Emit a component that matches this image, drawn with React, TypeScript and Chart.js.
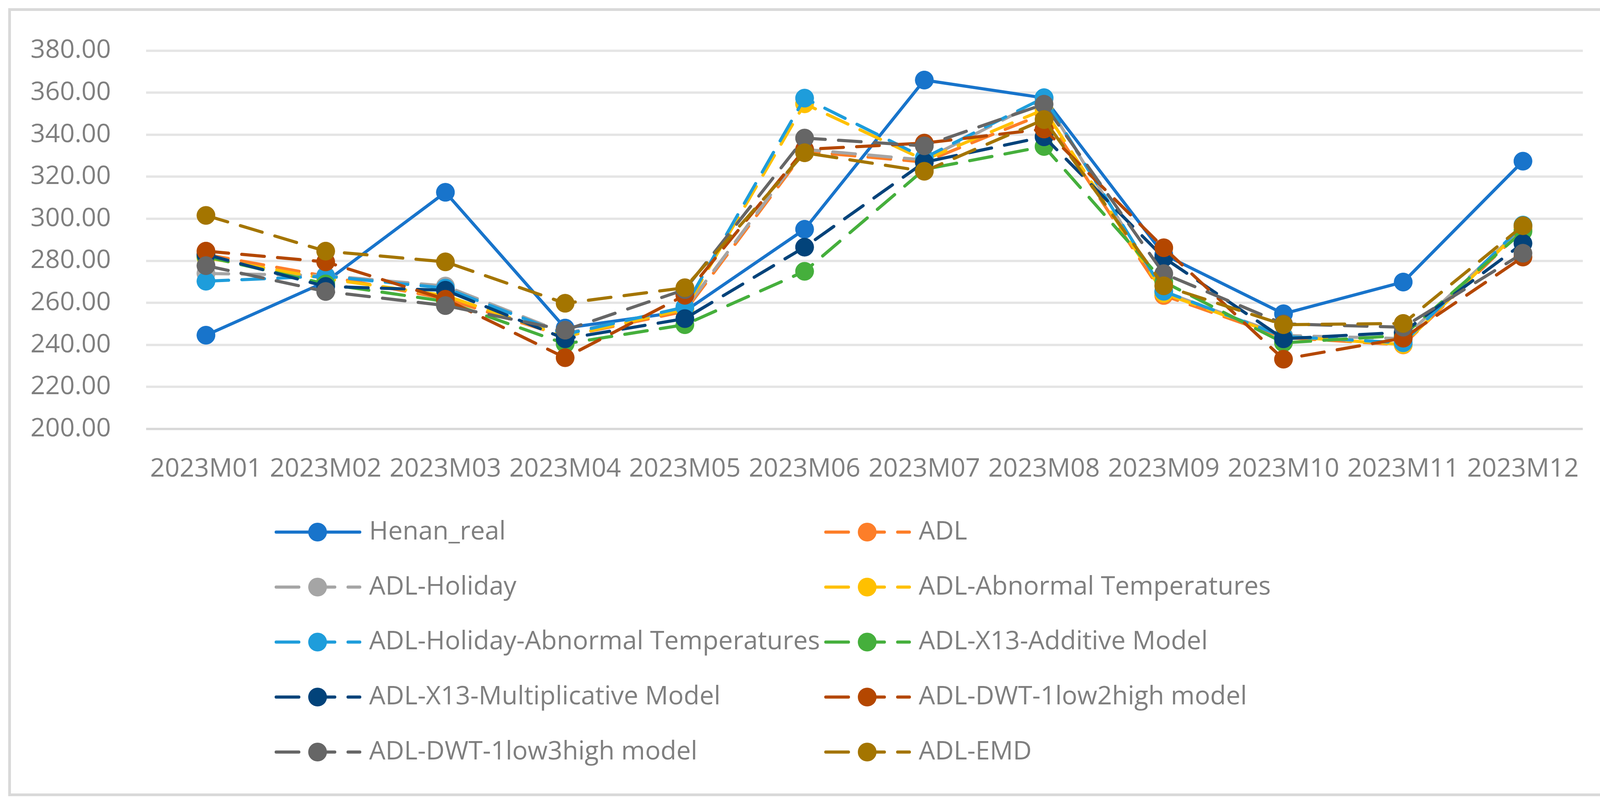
import React, { useEffect, useRef } from "react";
import Chart from "chart.js/auto";

const months = [
  "2023M01", "2023M02", "2023M03", "2023M04", "2023M05", "2023M06",
  "2023M07", "2023M08", "2023M09", "2023M10", "2023M11", "2023M12",
];

const henanReal = [244.6, 270.0, 312.6, 248.0, 256.0, 295.0, 366.0, 357.5, 283.0, 254.8, 269.9, 327.4];
const adl = [283.0, 272.7, 262.0, 244.0, 256.0, 332.0, 327.0, 350.0, 263.5, 243.5, 240.0, 295.0];
const adlHoliday = [274.0, 273.0, 268.0, 245.5, 257.0, 333.0, 328.0, 357.0, 265.3, 244.5, 243.0, 296.0];
const adlAbnormal = [281.5, 271.5, 263.5, 244.0, 257.0, 354.7, 328.0, 352.0, 264.5, 244.0, 240.2, 296.0];
const adlHolidayAbnormal = [270.3, 272.7, 267.0, 245.0, 258.0, 357.4, 329.0, 357.6, 265.5, 244.0, 241.0, 297.0];
const adlX13Add = [282.0, 269.0, 260.7, 240.5, 249.6, 275.0, 323.5, 334.4, 270.0, 241.0, 244.5, 294.0];
const adlX13Mul = [283.0, 267.8, 266.0, 242.9, 252.5, 286.5, 326.9, 339.0, 281.5, 242.9, 246.0, 288.3];
const adlDwt12 = [284.6, 279.5, 261.7, 233.9, 263.6, 333.0, 336.0, 342.7, 286.2, 233.2, 243.2, 281.8];
const adlDwt13 = [277.7, 265.4, 258.7, 247.0, 266.3, 338.4, 334.7, 354.5, 273.9, 250.0, 248.4, 283.6];
const adlEmd = [301.6, 284.6, 279.5, 259.8, 267.2, 331.4, 322.6, 347.2, 268.1, 249.6, 250.2, 296.7];

const yTicks = [200, 220, 240, 260, 280, 300, 320, 340, 360, 380];

const seriesNames = [
  "Henan_real",
  "ADL",
  "ADL-Holiday",
  "ADL-Abnormal Temperatures",
  "ADL-Holiday-Abnormal Temperatures",
  "ADL-X13-Additive Model",
  "ADL-X13-Multiplicative Model",
  "ADL-DWT-1low2high model",
  "ADL-DWT-1low3high model",
  "ADL-EMD",
];
const seriesValues = [
  henanReal, adl, adlHoliday, adlAbnormal, adlHolidayAbnormal,
  adlX13Add, adlX13Mul, adlDwt12, adlDwt13, adlEmd,
];
const seriesColors = [
  "#1874CB", "#FD7E29", "#A5A5A5", "#FFC000", "#1E9DDB",
  "#45AF3C", "#02437A", "#B44700", "#666666", "#A47500",
];

const FONT = "'Open Sans', sans-serif";
const TEXT_COLOR = "#7F7F7F";
const LINE_W = 8;
const DASH = [58, 34];

// white page, light frame, and the two-column legend underneath
const framePlugin = {
  id: "frameAndLegend",
  beforeDraw(chart: any) {
    const { ctx, width, height } = chart;
    ctx.save();
    ctx.fillStyle = "#FFFFFF";
    ctx.fillRect(0, 0, width, height);
    ctx.strokeStyle = "#D9D9D9";
    ctx.lineWidth = 7;
    ctx.strokeRect(24.5, 24.5, 4119, 2010);
    ctx.restore();
  },
  afterDraw(chart: any) {
    const { ctx } = chart;
    ctx.save();
    chart.data.datasets.forEach((ds: any, i: number) => {
      const col = i % 2;
      const row = Math.floor(i / 2);
      const x0 = 707 + col * 1407;
      const yc = 1362 + row * 140.75;
      ctx.strokeStyle = ds.borderColor;
      ctx.lineWidth = LINE_W;
      ctx.lineCap = "round";
      ctx.setLineDash(ds.borderDash || []);
      ctx.beginPath();
      ctx.moveTo(x0, yc);
      ctx.lineTo(x0 + 214, yc);
      ctx.stroke();
      ctx.setLineDash([]);
      ctx.fillStyle = ds.borderColor;
      ctx.beginPath();
      ctx.arc(x0 + 106, yc, 24, 0, Math.PI * 2);
      ctx.fill();
      ctx.fillStyle = TEXT_COLOR;
      ctx.font = `66px ${FONT}`;
      ctx.textBaseline = "middle";
      ctx.textAlign = "left";
      ctx.fillText(ds.label, x0 + 238, yc);
    });
    ctx.restore();
  },
};

export default function App() {
  const canvasRef = useRef<HTMLCanvasElement | null>(null);

  useEffect(() => {
    document.body.style.margin = "0";
    const canvas = canvasRef.current;
    if (!canvas) return;

    const datasets = seriesNames.map((name, i) => ({
      label: name,
      data: seriesValues[i],
      borderColor: seriesColors[i],
      backgroundColor: seriesColors[i],
      pointBackgroundColor: seriesColors[i],
      pointBorderColor: seriesColors[i],
      pointBorderWidth: 1,
      pointRadius: 23.5,
      pointHoverRadius: 23.5,
      borderWidth: LINE_W,
      borderDash: i === 0 ? [] : DASH,
      borderCapStyle: "round" as const,
      borderJoinStyle: "round" as const,
      tension: 0,
      // later series sit on top, as in the original
      order: seriesNames.length - i,
    }));

    const chart = new Chart(canvas, {
      type: "line",
      data: { labels: months, datasets },
      options: {
        animation: false,
        responsive: true,
        maintainAspectRatio: false,
        devicePixelRatio: 1,
        layout: { padding: { left: 0, top: 112, right: 112, bottom: 825 } },
        plugins: {
          legend: { display: false },
          tooltip: { enabled: false },
        },
        scales: {
          x: {
            offset: true,
            grid: { display: false },
            border: { display: false },
            ticks: {
              color: TEXT_COLOR,
              font: { family: FONT, size: 66 },
              padding: 56,
              maxRotation: 0,
              autoSkip: false,
            },
            afterFit: (scale: any) => {
              scale.height = 135;
            },
          },
          y: {
            min: yTicks[0],
            max: yTicks[yTicks.length - 1],
            afterBuildTicks: (scale: any) => {
              scale.ticks = yTicks.map((v) => ({ value: v }));
            },
            grid: {
              color: (c: any) => (c.tick && c.tick.value === 200 ? "#D9D9D9" : "#E5E5E5"),
              lineWidth: 6,
              drawTicks: false,
            },
            border: { display: false },
            ticks: {
              color: TEXT_COLOR,
              font: { family: FONT, size: 66 },
              padding: 90,
              callback: (v: any) => Number(v).toFixed(2),
            },
            afterFit: (scale: any) => {
              scale.width = 374;
            },
          },
        },
      },
      plugins: [framePlugin],
    });

    return () => {
      chart.destroy();
    };
  }, []);

  return (
    <div style={{ position: "relative", width: 4164, height: 2058 }}>
      <canvas ref={canvasRef} />
    </div>
  );
}
